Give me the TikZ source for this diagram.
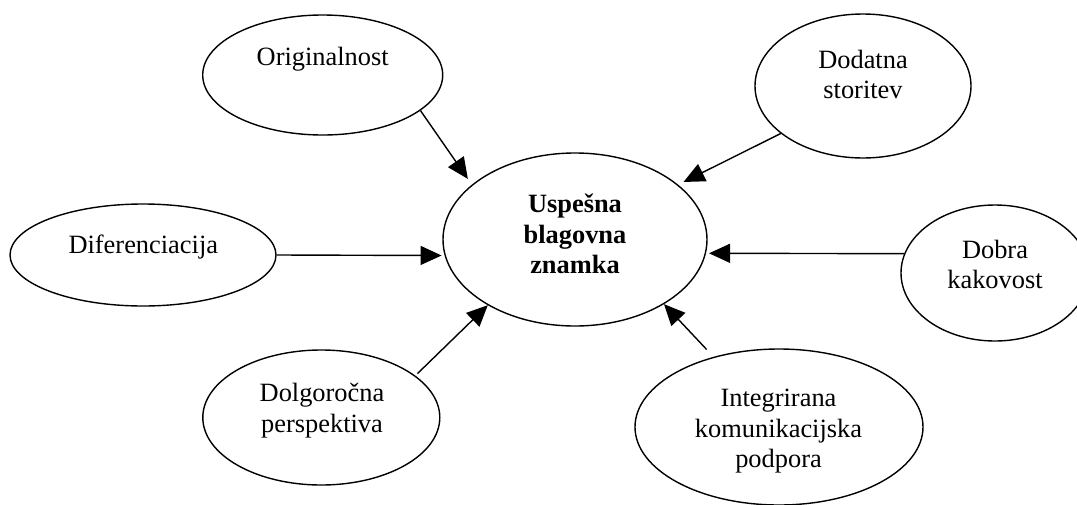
\documentclass[tikz,border=0pt]{standalone}
\usepackage{fontspec}
\setmainfont{Liberation Serif}
\usetikzlibrary{shapes.geometric,arrows.meta}
\begin{document}
\begin{tikzpicture}[x=1pt,y=-1pt,
  ell/.style={draw, ellipse, line width=1.4pt, inner sep=0pt},
  lbl/.style={font=\fontsize{26.4}{30.5}\selectfont, inner sep=0pt, anchor=base},
  arr/.style={-{Triangle[length=21pt,width=19pt]}, line width=1.4pt}]
\useasboundingbox (0,0) rectangle (1077,504);
\clip (0,0) rectangle (1077,504);
% ellipses
\node[ell, minimum width=240pt, minimum height=120pt] (orig) at (322.7,75) {};
\node[ell, minimum width=216pt, minimum height=144pt] (dod) at (863,86) {};
\node[ell, minimum width=264pt, minimum height=173pt] (cen) at (575,239.5) {};
\node[ell, minimum width=266pt, minimum height=102pt] (dif) at (143,255) {};
\node[ell, minimum width=188pt, minimum height=136pt] (dob) at (995,273) {};
\node[ell, minimum width=237pt, minimum height=135pt] (dol) at (321.3,417.5) {};
\node[ell, minimum width=288pt, minimum height=156pt] (int) at (779,427) {};
% labels
\node[lbl] (t1) at (322.7,65) {Originalnost};
\node[lbl] (t2) at (863,68.3) {\begin{tabular}[t]{@{}c@{}}Dodatna\\storitev\end{tabular}};
\node[lbl] (t3) at (575,212.5) {\bfseries\begin{tabular}[t]{@{}c@{}}Uspešna\\blagovna\\znamka\end{tabular}};
\node[lbl] (t4) at (143.3,253.3) {Diferenciacija};
\node[lbl] (t5) at (995,258.3) {\begin{tabular}[t]{@{}c@{}}Dobra\\kakovost\end{tabular}};
\node[lbl] (t6) at (322,401.7) {\begin{tabular}[t]{@{}c@{}}Dolgoročna\\perspektiva\end{tabular}};
\node[lbl] (t7) at (778.5,406.7) {\begin{tabular}[t]{@{}c@{}}Integrirana\\komunikacijska\\podpora\end{tabular}};
% connectors
\draw[arr, shorten >=7pt] (orig.-20) -- (cen.152);
\draw[arr, shorten >=6pt] (dod.-150) -- (cen.28);
\draw[arr, shorten >=3pt] (dif.0) -- (cen.-173);
\draw[arr, shorten >=3pt] (dob.168) -- (cen.-6);
\draw[arr, shorten <=3pt] (dol.24) -- (cen.-143);
\draw[arr, shorten <=10pt] (int.133) -- (cen.-36);
\end{tikzpicture}
\end{document}
